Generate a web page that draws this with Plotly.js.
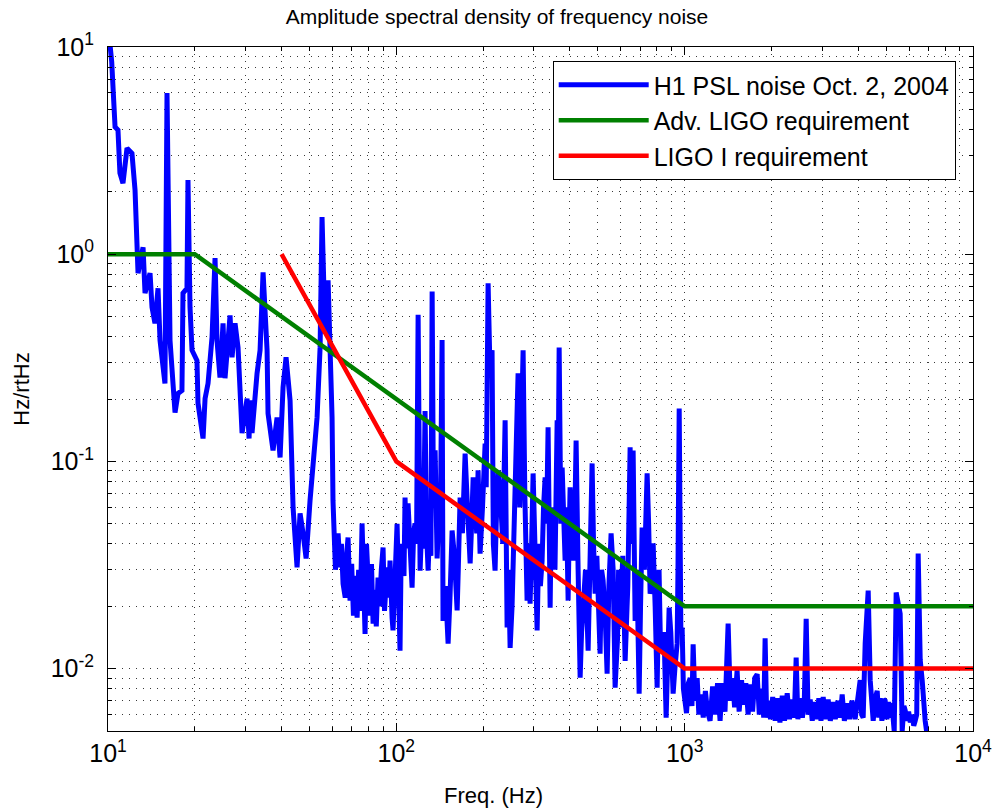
<!DOCTYPE html>
<html><head><meta charset="utf-8">
<script src="https://cdn.plot.ly/plotly-3.0.1.min.js"></script>
<style>html,body{margin:0;padding:0;background:#fff}#chart{width:993px;height:810px}</style>
</head><body><div id="chart"></div>
<script>
// H1 PSL noise, 10 Hz - 1 kHz (main features and spikes)
const noiseFreqLow = [
  10.05, 10.3, 10.58, 10.83, 11.0, 11.27, 11.64, 12.11, 12.41, 12.6,
  12.71, 13.23, 13.44, 13.99, 14.21, 14.55, 14.91, 15.15, 15.76, 16.02,
  16.41, 17.08, 17.49, 18.05, 18.2, 18.79, 18.94, 19.25, 19.56, 20.35,
  20.52, 21.36, 21.71, 22.23, 22.95, 23.51, 23.88, 24.46, 25.06, 25.46,
  26.5, 26.93, 27.58, 28.25, 29.17, 30.36, 30.85, 31.1, 31.59, 32.88,
  33.68, 34.5, 35.62, 35.9, 37.36, 38.58, 39.52, 40.47, 41.45, 42.8,
  43.49, 43.84, 45.26, 46.36, 47.49, 48.65, 50.2, 51.0, 53.1, 54.4,
  55.25, 56.6, 57.98, 59.86, 60.3, 62.8, 63.8, 65.35, 68.0, 69.1,
  73.1, 76.05, 77.9, 79.8, 83.06, 86.4, 89.94, 92.86, 95.1, 96.65,
  97.4, 100.6, 103.0, 105.5, 107.2, 109.8, 113.4, 116.1, 119.0, 120.9,
  125.8, 128.9, 133.1, 136.3, 138.5, 144.1, 145.2, 151.2, 156.1, 162.5,
  166.4, 173.2, 180.3, 184.7, 192.1, 195.2, 203.2, 208.1, 214.8, 220.0,
  225.4, 238.4, 242.2, 248.1, 258.1, 264.4, 275.2, 284.1, 291.0, 298.1,
  307.8, 320.3, 328.1, 336.0, 341.5, 349.8, 361.2, 367.0, 375.9, 384.9,
  394.3, 400.6, 410.3, 420.2, 434.0, 444.5, 462.6, 477.5, 489.1, 508.9,
  521.3, 538.3, 555.7, 573.8, 597.2, 621.6, 646.9, 662.6, 673.3, 695.2,
  712.0, 741.0, 759.0, 777.4, 802.6, 835.3, 862.4, 883.3, 912.0, 941.5,
  957.2, 980
];
const noiseAsdLow = [
  12, 8.5, 4.11, 3.97, 2.46, 2.20, 3.25, 3.07, 2.04, 1.08,
  0.81, 1.08, 0.648, 0.81, 0.555, 0.464, 0.685, 0.384, 0.238, 6.0,
  0.384, 0.172, 0.213, 0.220, 0.648, 0.685, 2.28, 0.555, 0.344, 0.307,
  0.191, 0.129, 0.201, 0.238, 0.397, 0.957, 0.384, 0.254, 0.464, 0.252,
  0.507, 0.318, 0.464, 0.355, 0.137, 0.201, 0.129, 0.197, 0.137, 0.266,
  0.344, 0.818, 0.344, 0.170, 0.113, 0.163, 0.1045, 0.228, 0.318, 0.197,
  0.1045, 0.0599, 0.0308, 0.0561, 0.0449, 0.0340, 0.0648, 0.0837, 0.163, 0.355,
  1.51, 0.415, 0.749, 0.163, 0.0648, 0.0449, 0.0308, 0.0257, 0.0429, 0.0213,
  0.0176, 0.0502, 0.0147, 0.0275, 0.0165, 0.0275, 0.0384, 0.0308, 0.0332, 0.0176,
  0.0153, 0.050, 0.0122, 0.0332, 0.067, 0.0627, 0.0246, 0.0502, 0.51, 0.0297,
  0.175, 0.0297, 0.66, 0.113, 0.034, 0.385, 0.017, 0.0132, 0.0464, 0.0191,
  0.067, 0.109, 0.0322, 0.0837, 0.0905, 0.0359, 0.122, 0.724, 0.344, 0.0297,
  0.0905, 0.158, 0.0158, 0.0126, 0.058, 0.266, 0.344, 0.0213, 0.0206, 0.0875,
  0.0153, 0.0332, 0.0837, 0.146, 0.0197, 0.048, 0.158, 0.355, 0.0935, 0.0332,
  0.0213, 0.0749, 0.0332, 0.126, 0.00905, 0.0191, 0.0122, 0.0978, 0.023, 0.0118,
  0.0266, 0.00946, 0.0449, 0.0081, 0.0158, 0.0109, 0.117, 0.113, 0.017, 0.00757,
  0.048, 0.0875, 0.023, 0.0402, 0.0081, 0.0132, 0.0058, 0.0197, 0.00757, 0.0132,
  0.18, 0.0158
];
// H1 PSL noise, dense band between the features (60 Hz - 1 kHz)
const noiseFreqBand = [
  61.5, 64.5, 66.5, 67.2, 70.0, 71.0, 72.0, 74.0, 75.0, 78.8,
  80.8, 82.0, 84.2, 85.2, 87.5, 88.7, 91.0, 94.0, 101.5, 104.0,
  106.3, 108.5, 111.5, 114.8, 117.5, 122.5, 124.0, 127.3, 130.5, 131.8,
  134.5, 137.0, 140.0, 142.0, 148.0, 153.5, 159.0, 164.0, 169.5, 176.5,
  178.0, 182.5, 188.0, 190.0, 199.0, 205.0, 211.0, 217.0, 222.0, 230.0,
  234.0, 245.0, 252.0, 255.0, 261.0, 268.0, 271.0, 279.0, 287.0, 294.0,
  312.0, 316.0, 324.0, 332.0, 345.0, 355.0, 364.0, 372.0, 380.0, 389.0,
  397.0, 405.0, 415.0, 427.0, 439.0, 453.0, 470.0, 483.0, 496.0, 502.0,
  515.0, 530.0, 546.0, 565.0, 585.0, 590.0, 610.0, 635.0, 655.0, 668.0,
  683.0, 703.0, 725.0, 750.0, 768.0, 790.0, 815.0, 825.0, 848.0, 870.0,
  895.0, 925.0, 948.0, 970.0, 990.0
];
const noiseAsdBand = [
  0.030, 0.040, 0.022, 0.035, 0.032, 0.018, 0.028, 0.030, 0.019, 0.040,
  0.018, 0.032, 0.024, 0.016, 0.020, 0.030, 0.019, 0.022, 0.025, 0.040,
  0.028, 0.038, 0.033, 0.045, 0.040, 0.050, 0.038, 0.045, 0.048, 0.035,
  0.060, 0.042, 0.050, 0.044, 0.025, 0.022, 0.035, 0.030, 0.045, 0.060,
  0.040, 0.050, 0.060, 0.045, 0.060, 0.075, 0.300, 0.040, 0.050, 0.065,
  0.040, 0.030, 0.020, 0.040, 0.090, 0.060, 0.120, 0.070, 0.040, 0.035,
  0.040, 0.025, 0.060, 0.050, 0.060, 0.030, 0.080, 0.050, 0.045, 0.060,
  0.040, 0.055, 0.045, 0.030, 0.015, 0.030, 0.035, 0.040, 0.035, 0.020,
  0.030, 0.018, 0.025, 0.030, 0.014, 0.030, 0.035, 0.025, 0.040, 0.030,
  0.030, 0.020, 0.030, 0.050, 0.025, 0.020, 0.030, 0.012, 0.015, 0.009,
  0.015, 0.010, 0.030, 0.015, 0.008
];
// H1 PSL noise, 1 kHz - 7 kHz
const noiseFreqHigh = [
  1000, 1015, 1030, 1045, 1060, 1070, 1085, 1105, 1120, 1140,
  1160, 1180, 1200, 1225, 1250, 1275, 1300, 1327, 1350, 1380,
  1415, 1440, 1465, 1490, 1520, 1545, 1575, 1600, 1630, 1660,
  1690, 1720, 1750, 1784, 1815, 1850, 1880, 1901, 1925, 1950,
  1985, 2020, 2060, 2100, 2140, 2180, 2220, 2268, 2310, 2360,
  2400, 2436, 2470, 2515, 2560, 2600, 2639, 2680, 2725, 2770,
  2820, 2870, 2920, 2970, 3023, 3080, 3146, 3200, 3274, 3330,
  3400, 3460, 3518, 3580, 3660, 3730, 3800, 3841, 3900, 3970,
  4062, 4110, 4160, 4227, 4330, 4400, 4460, 4507, 4580, 4653,
  4710, 4766, 4830, 4900, 4959, 5030, 5100, 5162, 5230, 5290,
  5330, 5414, 5590, 5681, 5760, 5818, 5900, 5980, 6060, 6153,
  6230, 6302, 6380, 6454, 6560, 6664, 6750, 6825, 6900, 6992
];
const noiseAsdHigh = [
  0.0068, 0.0061, 0.0085, 0.0090, 0.0066, 0.0131, 0.0070, 0.0090, 0.0060, 0.0075,
  0.0058, 0.0078, 0.0062, 0.0056, 0.0082, 0.0060, 0.0085, 0.0056, 0.0085, 0.0062,
  0.0165, 0.0070, 0.0090, 0.0065, 0.0098, 0.0062, 0.0088, 0.0067, 0.0085, 0.0060,
  0.0084, 0.0062, 0.0090, 0.0094, 0.0060, 0.0080, 0.0058, 0.0140, 0.0058, 0.0070,
  0.0057, 0.0073, 0.0056, 0.0072, 0.0055, 0.0074, 0.0056, 0.0076, 0.0057, 0.0071,
  0.0058, 0.0113, 0.0057, 0.0072, 0.0058, 0.0071, 0.0174, 0.0060, 0.0071, 0.0056,
  0.0069, 0.0057, 0.0072, 0.0056, 0.0073, 0.0057, 0.0071, 0.0056, 0.0069, 0.0057,
  0.0070, 0.0058, 0.0075, 0.0056, 0.0068, 0.0057, 0.0070, 0.0066, 0.0057, 0.0070,
  0.0088, 0.0060, 0.0058, 0.0132, 0.0238, 0.0088, 0.0060, 0.0056, 0.0072, 0.0078,
  0.0058, 0.0072, 0.0056, 0.0071, 0.0070, 0.0057, 0.0069, 0.0058, 0.0068, 0.0054,
  0.0050, 0.0233, 0.0184, 0.0050, 0.0066, 0.0063, 0.0056, 0.0062, 0.0055, 0.0060,
  0.0053, 0.0056, 0.0060, 0.0359, 0.0110, 0.0088, 0.0062, 0.0056, 0.0050, 0.0045
];
const advLigoFreq = [10, 20, 1000, 10000];
const advLigoAsd = [1, 1, 0.02, 0.02];
const ligoIFreq = [40, 100, 1000, 10000];
const ligoIAsd = [1, 0.1, 0.01, 0.01];
const seriesNames = ['H1 PSL noise Oct. 2, 2004', 'Adv. LIGO requirement', 'LIGO I requirement'];
const seriesColors = ['#0000ff', '#008000', '#ff0000'];
const xTickVals = [10, 100, 1000, 10000];
const xTickText = ['10<sup>1</sup>', '10<sup>2</sup>', '10<sup>3</sup>', '10<sup>4</sup>'];
const yTickVals = [0.01, 0.1, 1, 10];
const yTickText = ['10<sup>-2</sup>', '10<sup>-1</sup>', '10<sup>0</sup>', '10<sup>1</sup>'];
const titleText = 'Amplitude spectral density of frequency noise';
const xTitle = 'Freq. (Hz)';
const yTitle = 'Hz/rtHz';

// merge the noise segments into one frequency-sorted series
const noisePts = [];
[[noiseFreqLow, noiseAsdLow], [noiseFreqBand, noiseAsdBand], [noiseFreqHigh, noiseAsdHigh]].forEach(([f, a]) => {
  f.forEach((v, i) => noisePts.push([v, a[i]]));
});
noisePts.sort((p, q) => p[0] - q[0]);
const noiseX = noisePts.map(p => p[0]);
const noiseY = noisePts.map(p => p[1]);

const FONT = 'Liberation Sans, Arial, Helvetica, sans-serif';
function minorVals(lo, hi) {
  const out = [];
  for (let d = lo; d < hi; d++) for (let k = 2; k <= 9; k++) out.push(k * Math.pow(10, d));
  return out;
}
const gridDash = '1px,6px';
const gridColor = '#3a3a3a';
function axis(tv, tt, range, minor) {
  return {
    type: 'log', range: range, tickmode: 'array', tickvals: tv, ticktext: tt,
    ticks: 'inside', ticklen: 8, tickwidth: 1, tickcolor: '#000',
    showline: true, linecolor: '#000', linewidth: 1, mirror: 'allticks',
    showgrid: true, gridcolor: gridColor, griddash: gridDash, gridwidth: 1,
    zeroline: false, tickfont: {family: FONT, size: 25, color: '#000'},
    minor: {tickmode: 'array', tickvals: minor, ticks: 'inside', ticklen: 4, tickcolor: '#000',
            showgrid: true, gridcolor: gridColor, griddash: gridDash, gridwidth: 1}
  };
}
const xa = axis(xTickVals, xTickText, [1, 4], minorVals(1, 4));
const ya = axis(yTickVals, yTickText, [Math.log10(0.005), 1], minorVals(-3, 1));
ya.ticklabelstandoff = 8;
ya.title = {text: yTitle, font: {family: FONT, size: 22, color: '#000'}, standoff: 14};

const traces = [
  {x: noiseX, y: noiseY, name: seriesNames[0], mode: 'lines', line: {color: seriesColors[0], width: 5}},
  {x: advLigoFreq, y: advLigoAsd, name: seriesNames[1], mode: 'lines', line: {color: seriesColors[1], width: 4.5}},
  {x: ligoIFreq, y: ligoIAsd, name: seriesNames[2], mode: 'lines', line: {color: seriesColors[2], width: 4.5}}
];
const layout = {
  width: 993, height: 810,
  margin: {l: 108, r: 20, t: 47, b: 79},
  paper_bgcolor: '#fff', plot_bgcolor: '#fff',
  title: {text: titleText, font: {family: FONT, size: 21, color: '#000'}, x: 0.4497, xref: 'paper', xanchor: 'center', y: 0.979, yanchor: 'middle'},
  xaxis: xa, yaxis: ya,
  annotations: [{text: xTitle, xref: 'paper', yref: 'paper', x: 0.4462, y: -0.095, xanchor: 'center', yanchor: 'middle',
                 showarrow: false, font: {family: FONT, size: 22, color: '#000'}}],
  showlegend: true,
  legend: {x: 0.98, y: 0.9795, xanchor: 'right', yanchor: 'top', bgcolor: '#fff', bordercolor: '#000', borderwidth: 1,
           font: {family: FONT, size: 25, color: '#000'}, itemwidth: 90, tracegroupgap: 0},
  font: {family: FONT, color: '#000'}
};
Plotly.newPlot('chart', traces, layout, {displayModeBar: false, staticPlot: true});
</script>
</body></html>
